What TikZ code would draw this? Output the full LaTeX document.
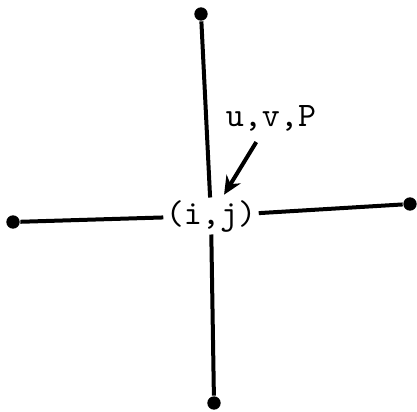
\documentclass[tikz,border=0pt]{standalone}
\usepackage{tikz}
\usetikzlibrary{arrows.meta}

\tikzset{
	lbl/.style={font=\ttfamily\fontsize{10.3}{12}\selectfont, inner sep=0.6pt},
	dot/.style={circle, fill=black, inner sep=0pt, minimum size=4pt},
	edge/.style={line width=1.2pt}
}

\begin{document}
\begin{tikzpicture}[x=0.3pt,y=-0.3pt]
			\useasboundingbox (0,0) rectangle (417,411);
			\node[lbl] (ij) at (211,216) {(i,j)};
			\node[lbl] (uvp) at (271,118) {u,v,P};
			\foreach \n/\x/\y in {top/201/14,bot/214/403,lft/13/222,rgt/410/204}
			\node[dot] (\n) at (\x,\y) {};
			\foreach \n in {top,bot,lft,rgt}
			\draw[edge] (\n) -- (ij);
			\draw[edge,shorten <=3pt,shorten >=1pt,-{Stealth[length=5.5pt,width=5pt]}] (uvp) -- (ij);
	\end{tikzpicture}
\end{document}
